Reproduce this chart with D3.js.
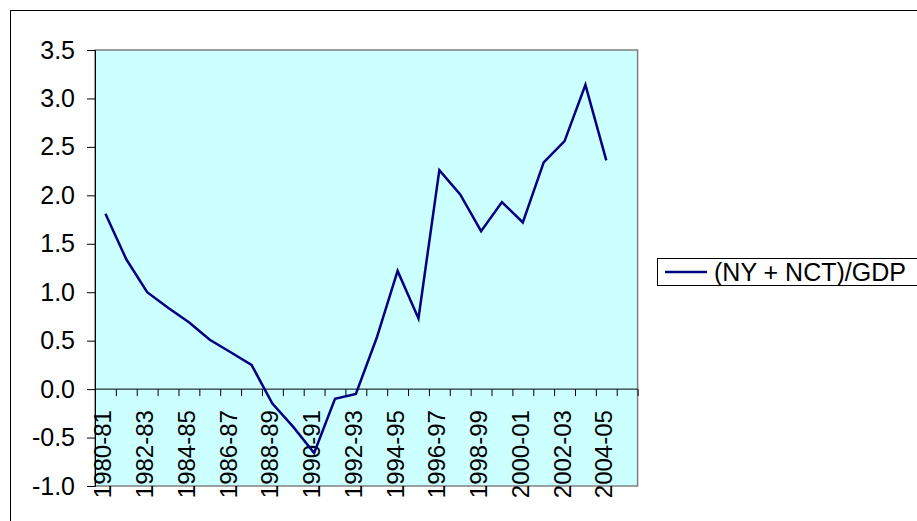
<!DOCTYPE html>
<html><head><meta charset="utf-8">
<script src="https://cdn.jsdelivr.net/npm/d3@7"></script>
<style>html,body{margin:0;padding:0;background:#fff;}svg{display:block;font-family:Arial,"Liberation Sans",sans-serif;}</style>
</head><body><svg id="c" width="917" height="521"></svg>
<script>
const categories = ["1980-81","1981-82","1982-83","1983-84","1984-85","1985-86","1986-87","1987-88","1988-89","1989-90","1990-91","1991-92","1992-93","1993-94","1994-95","1995-96","1996-97","1997-98","1998-99","1999-00","2000-01","2001-02","2002-03","2003-04","2004-05","2005-06"];
const seriesName = "(NY + NCT)/GDP";
const values = [1.81,1.34,1.00,0.84,0.69,0.51,0.38,0.25,-0.15,-0.39,-0.66,-0.10,-0.05,0.53,1.22,0.73,2.26,2.01,1.63,1.93,1.72,2.34,2.56,3.14,2.36];
const yTicks = [-1.0,-0.5,0.0,0.5,1.0,1.5,2.0,2.5,3.0,3.5];
const xLabels = ["1980-81","1982-83","1984-85","1986-87","1988-89","1990-91","1992-93","1994-95","1996-97","1998-99","2000-01","2002-03","2004-05"];

const svg = d3.select("#c");
const P = {l:95, r:637.6, t:50, b:486};

svg.append("rect").attr("x",10.5).attr("y",10.5).attr("width",1000).attr("height",1000)
  .attr("fill","#fff").attr("stroke","#000").attr("stroke-width",1);

const x = d3.scaleBand().domain(categories).range([P.l,P.r]).padding(0);
const xi = d3.scaleLinear().domain([0,categories.length]).range([P.l,P.r]);
const y = d3.scaleLinear().domain([-1,3.5]).range([P.b,P.t]);

svg.append("rect").attr("x",P.l).attr("y",P.t).attr("width",P.r-P.l).attr("height",P.b-P.t)
  .attr("fill","#CCFFFF").attr("stroke","#808080").attr("stroke-width",1.5);

// y axis
const yAxis = d3.axisLeft(y).tickValues(yTicks).tickFormat(d=>d.toFixed(1)).tickSize(8).tickPadding(12);
const gy = svg.append("g").attr("transform",`translate(${P.l},0)`).call(yAxis);
gy.select(".domain").attr("stroke","#000");
gy.selectAll(".tick line").attr("stroke","#000");
gy.selectAll(".tick text").attr("font-size","25px").attr("fill","#000").attr("font-family","Arial, 'Liberation Sans', sans-serif");

// x axis at zero
const xAxis = d3.axisBottom(xi).tickValues(d3.range(0,categories.length+1)).tickSize(7).tickFormat("");
const gx = svg.append("g").attr("transform",`translate(0,${y(0)})`).call(xAxis);
gx.select(".domain").attr("stroke","#000").attr("d",`M${P.l},0H${P.r}`);
gx.selectAll(".tick line").attr("stroke","#000");

// x labels
svg.append("g").selectAll("text").data(xLabels).join("text")
  .attr("transform",d=>`translate(${x(d)+x.bandwidth()/2+6},${y(0)+21}) rotate(-90)`)
  .attr("text-anchor","end").attr("font-size","24px").attr("fill","#000").text(d=>d);

// line
const line = d3.line().x((d,i)=>x(categories[i])+x.bandwidth()/2).y(d=>y(d));
svg.append("path").datum(values).attr("d",line).attr("fill","none")
  .attr("stroke","#000080").attr("stroke-width",2.5).attr("stroke-linejoin","miter");

// legend
const lg = svg.append("g");
lg.append("rect").attr("x",657.5).attr("y",258.5).attr("width",400).attr("height",27)
  .attr("fill","#fff").attr("stroke","#000").attr("stroke-width",1);
lg.append("line").attr("x1",665).attr("x2",707).attr("y1",272).attr("y2",272)
  .attr("stroke","#000080").attr("stroke-width",2.5);
lg.append("text").attr("x",714).attr("y",281).attr("font-size","25px").attr("fill","#000").text(seriesName);
</script></body></html>
